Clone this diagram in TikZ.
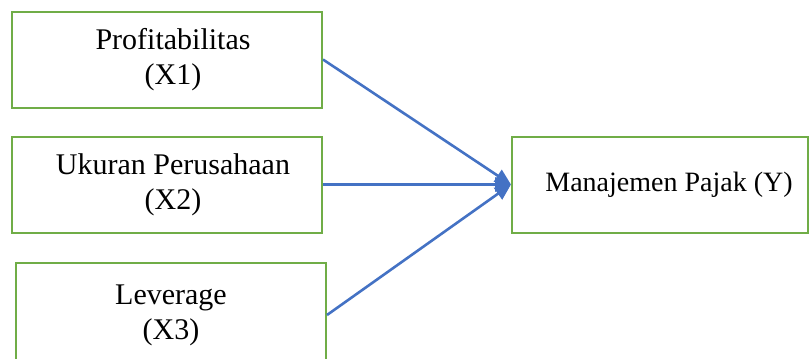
\documentclass[tikz,border=0pt]{standalone}
\usepackage{fontspec}
\setmainfont{Liberation Serif}
\usetikzlibrary{arrows.meta}
\definecolor{boxgreen}{HTML}{70AD47}
\definecolor{arrowblue}{HTML}{4472C4}

\begin{document}
\begin{tikzpicture}[x=0.5pt,y=-0.5pt,
  var/.style={draw=boxgreen, line width=1pt, minimum width=155pt,
    minimum height=48pt, align=center, inner sep=0pt,
    font=\fontsize{15}{17.5}\selectfont},
  link/.style={draw=arrowblue, line width=1.3pt,
    -{Triangle[length=8pt,width=7pt]}}]

\clip (0,0) rectangle (810,359);

% independent variables
\node[var] (x1) at (167,59.5) {\hspace*{6pt}Profitabilitas\\\hspace*{6pt}(X1)};
\node[var] (x2) at (167,184.5) {\hspace*{6pt}Ukuran Perusahaan\\\hspace*{6pt}(X2)};
\node[var, minimum height=52pt] (x3) at (171,315) {Leverage\\(X3)};

% dependent variable
\node[var, minimum width=148pt, font=\fontsize{14}{17}\selectfont]
  (y) at (660,184.5) {\hspace*{9pt}Manajemen Pajak (Y)};

\draw[link] (x1.east) -- (y.west);
\draw[link] (x2.east) -- (y.west);
\draw[link] (x3.east) -- (y.west);

\end{tikzpicture}
\end{document}
